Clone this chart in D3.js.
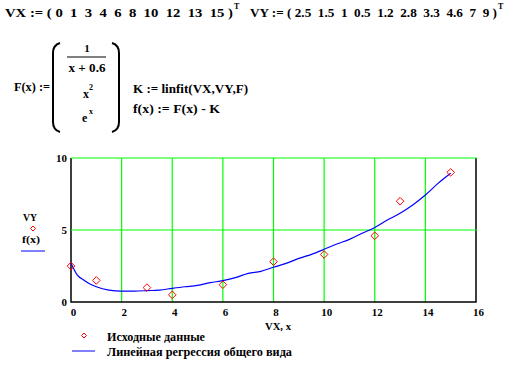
<!DOCTYPE html>
<html><head><meta charset="utf-8">
<script src="https://cdn.jsdelivr.net/npm/d3@7/dist/d3.min.js"></script>
<style>
body{margin:0;background:#fff;}
svg text{font-family:"Liberation Serif","Times New Roman",serif;font-weight:bold;fill:#000;white-space:pre;}
</style></head><body>
<svg id="c" width="513" height="367"></svg>
<script>
// data
const VX = [0, 1, 3, 4, 6, 8, 10, 12, 13, 15];
const VY = [2.5, 1.5, 1, 0.5, 1.2, 2.8, 3.3, 4.6, 7, 9];
// regression curve f(x)
const fxX = [0, 0.25, 0.5, 0.75, 1, 1.5, 2, 2.5, 3, 3.5, 4, 4.5, 5, 5.5, 6, 6.5, 7, 7.5, 8, 8.5, 9, 9.5, 10, 10.5, 11, 11.5, 12, 12.5, 13, 13.5, 14, 14.5, 15];
const fxY = [2.69, 1.87, 1.53, 1.25, 1.06, 0.83, 0.76, 0.76, 0.79, 0.83, 0.95, 1.06, 1.15, 1.34, 1.48, 1.69, 1.99, 2.13, 2.41, 2.68, 3.03, 3.31, 3.66, 4.03, 4.35, 4.77, 5.18, 5.69, 6.16, 6.74, 7.43, 8.24, 8.94];
const xTicks = [0, 2, 4, 6, 8, 10, 12, 14, 16];
const yTicks = [0, 5, 10];
const xLabel = "VX, x";
const legendLabels = ["Исходные данные", "Линейная регрессия общего вида"];

const svg = d3.select("#c");
const GREEN = "#00ff00", RED = "#ff0000", BLUE = "#0000ff";

// ----- formulas -----
function txt(x, y, s, size, len, anchor) {
  const t = svg.append("text").attr("x", x).attr("y", y).style("font-size", size + "px").text(s);
  if (anchor) t.attr("text-anchor", anchor);
  if (len) t.attr("textLength", len).attr("lengthAdjust", "spacingAndGlyphs");
  return t;
}
txt(5, 17, "VX := ( " + VX.join("  ") + " )", 12, 228);
txt(234, 9, "T", 8);
txt(250, 17, "VY := ( " + VY.join("  ") + " )", 12, 247);
txt(498, 9, "T", 8);

txt(14, 91, "F(x) :=", 12, 36);
// parentheses
svg.append("path").attr("d", "M60,43 Q53,45 53,53 L53,122 Q53,130 60,132").attr("fill", "none").attr("stroke", "#000").attr("stroke-width", 2);
svg.append("path").attr("d", "M112,43 Q119,45 119,53 L119,122 Q119,130 112,132").attr("fill", "none").attr("stroke", "#000").attr("stroke-width", 2);
txt(87, 52, "1", 11, null, "middle");
svg.append("line").attr("x1", 67).attr("x2", 106).attr("y1", 57).attr("y2", 57).attr("stroke", "#000").attr("stroke-width", 1);
txt(87, 72, "x + 0.6", 12, 37, "middle");
txt(83, 98, "x", 12);
txt(89, 90, "2", 8);
txt(82, 122, "e", 12);
txt(89, 114, "x", 8);
txt(133, 93, "K := linfit(VX,VY,F)", 12, 115);
txt(133, 113, "f(x) := F(x) - K", 12, 87);

// ----- chart -----
const x = d3.scaleLinear().domain([0, 16]).range([71, 476]);
const y = d3.scaleLinear().domain([0, 10]).range([302, 158]);

// grid
svg.append("g").selectAll("line").data(xTicks.filter(d => d > 0 && d < 16)).join("line")
  .attr("x1", d => x(d)).attr("x2", d => x(d)).attr("y1", y(0)).attr("y2", y(10))
  .attr("stroke", GREEN).attr("stroke-width", 1.2);
// axes frame
svg.append("path").attr("d", `M${x(0)},${y(10)}V${y(0)}H${x(16)}V${y(10)}`).attr("fill", "none").attr("stroke", "#000").attr("stroke-width", 1.5);
svg.append("g").selectAll("line").data(yTicks.filter(d => d > 0)).join("line")
  .attr("x1", x(0)).attr("x2", x(16) + 1).attr("y1", d => y(d)).attr("y2", d => y(d))
  .attr("stroke", GREEN).attr("stroke-width", 1.2);

// axis labels
const ax = svg.append("g").attr("transform", `translate(2,${y(0)})`)
  .call(d3.axisBottom(x).tickValues(xTicks).tickSize(0).tickPadding(6).tickFormat(d3.format("d")));
ax.select(".domain").remove();
ax.selectAll("text").style("font-size", "11px").style("font-family", "Liberation Serif").style("font-weight", "bold");
const ay = svg.append("g").attr("transform", `translate(${x(0) - 4},0)`)
  .call(d3.axisLeft(y).tickValues(yTicks).tickSize(0).tickPadding(0).tickFormat(d3.format("d")));
ay.select(".domain").remove();
ay.selectAll("text").style("font-size", "11px").style("font-family", "Liberation Serif").style("font-weight", "bold");

// curve
const line = d3.line().x((d, i) => x(fxX[i])).y(d => y(d)).curve(d3.curveMonotoneX);
svg.append("path").datum(fxY).attr("d", line).attr("fill", "none").attr("stroke", BLUE).attr("stroke-width", 1.2);

// points
const diamond = (cx, cy, r) => `M${cx},${cy - r}L${cx + r},${cy}L${cx},${cy + r}L${cx - r},${cy}Z`;
svg.append("g").selectAll("path").data(VX).join("path")
  .attr("d", (d, i) => diamond(x(d), y(VY[i]), 3.8))
  .attr("fill", "none").attr("stroke", RED).attr("stroke-width", 1);

// side legend
txt(23, 221, "VY", 11, 14);
svg.append("path").attr("d", diamond(33, 228.5, 2.5)).attr("fill", "none").attr("stroke", RED);
txt(22, 243, "f(x)", 11, 18);
svg.append("line").attr("x1", 21).attr("x2", 45).attr("y1", 251).attr("y2", 251).attr("stroke", BLUE).attr("stroke-width", 1);

// x label
txt(265, 330, xLabel, 11, 26);

// bottom legend
svg.append("path").attr("d", diamond(84, 335.5, 2.5)).attr("fill", "none").attr("stroke", RED);
txt(107, 341, legendLabels[0], 12, 98);
svg.append("line").attr("x1", 72).attr("x2", 95).attr("y1", 351).attr("y2", 351).attr("stroke", BLUE).attr("stroke-width", 1);
txt(107, 356, legendLabels[1], 12, 185);
</script></body></html>
